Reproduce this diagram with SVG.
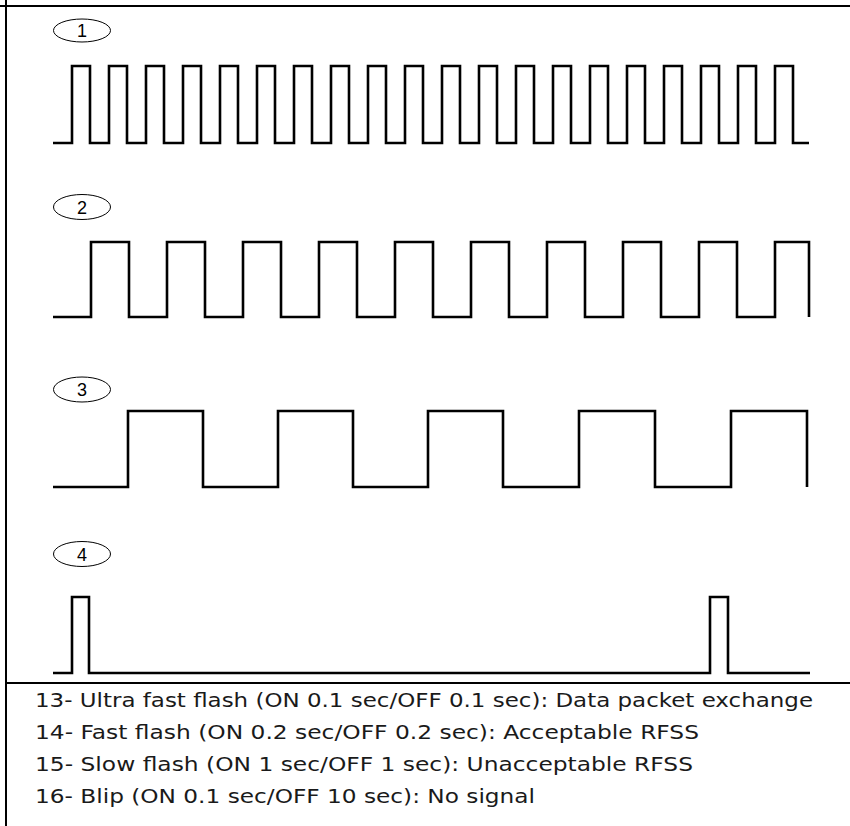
<svg xmlns="http://www.w3.org/2000/svg" width="850" height="826" viewBox="0 0 850 826">
<style>
.frame{stroke:#000;stroke-width:2;fill:none}
.wave{stroke:#000;stroke-width:2.6;fill:none;stroke-linejoin:miter;stroke-linecap:butt}
.badge{stroke:#000;stroke-width:1;fill:#fff}
.num{font-family:"Liberation Sans",Arial,sans-serif;font-size:18px;fill:#000;text-anchor:middle}
.legend{font-family:"DejaVu Sans","Noto Sans",sans-serif;font-size:20px;fill:#1a1a1a}
</style>
<rect width="850" height="826" fill="#fff"/>
<g id="frame">
<line class="frame" x1="0" y1="6" x2="850" y2="6"/>
<line class="frame" x1="6" y1="0" x2="6" y2="826"/>
<line class="frame" x1="6" y1="683" x2="850" y2="683"/>
</g>
<g id="signal1">
<ellipse class="badge" cx="82" cy="30.5" rx="28.5" ry="11.5"/>
<text class="num" x="82" y="37">1</text>
<path class="wave" d="M53,143 H72 V66 H90 V143 H109 V66 H127 V143 H146 V66 H164 V143 H183 V66 H201 V143 H220 V66 H238 V143 H257 V66 H275 V143 H294 V66 H312 V143 H331 V66 H349 V143 H368 V66 H386 V143 H405 V66 H423 V143 H442 V66 H460 V143 H479 V66 H497 V143 H516 V66 H534 V143 H553 V66 H571 V143 H590 V66 H608 V143 H627 V66 H645 V143 H664 V66 H682 V143 H701 V66 H719 V143 H738 V66 H756 V143 H775 V66 H793 V143 H809"/>
</g>
<g id="signal2">
<ellipse class="badge" cx="82" cy="207" rx="28.5" ry="12.5"/>
<text class="num" x="82" y="213.5">2</text>
<path class="wave" d="M53,317 H91 V242 H129 V317 H167 V242 H205 V317 H243 V242 H281 V317 H319 V242 H357 V317 H395 V242 H433 V317 H471 V242 H509 V317 H547 V242 H585 V317 H623 V242 H661 V317 H699 V242 H737 V317 H775 V242 H809 V317"/>
</g>
<g id="signal3">
<ellipse class="badge" cx="82" cy="389.5" rx="28.5" ry="12.5"/>
<text class="num" x="82" y="396">3</text>
<path class="wave" d="M53,487 H128 V411 H203 V487 H278 V411 H353 V487 H428 V411 H503 V487 H579 V411 H655 V487 H731 V411 H807 V487"/>
</g>
<g id="signal4">
<ellipse class="badge" cx="82" cy="554" rx="28.5" ry="12.5"/>
<text class="num" x="82" y="560.5">4</text>
<path class="wave" d="M53,673 H72 V597 H89 V673 H710 V597 H728 V673 H810"/>
</g>
<g id="legend">
<text class="legend" x="35" y="707" textLength="778" lengthAdjust="spacingAndGlyphs">13- Ultra fast flash (ON 0.1 sec/OFF 0.1 sec): Data packet exchange</text>
<text class="legend" x="35" y="739" textLength="664" lengthAdjust="spacingAndGlyphs">14- Fast flash (ON 0.2 sec/OFF 0.2 sec): Acceptable RFSS</text>
<text class="legend" x="35" y="771" textLength="658" lengthAdjust="spacingAndGlyphs">15- Slow flash (ON 1 sec/OFF 1 sec): Unacceptable RFSS</text>
<text class="legend" x="35" y="803" textLength="500" lengthAdjust="spacingAndGlyphs">16- Blip (ON 0.1 sec/OFF 10 sec): No signal</text>
</g>
</svg>
